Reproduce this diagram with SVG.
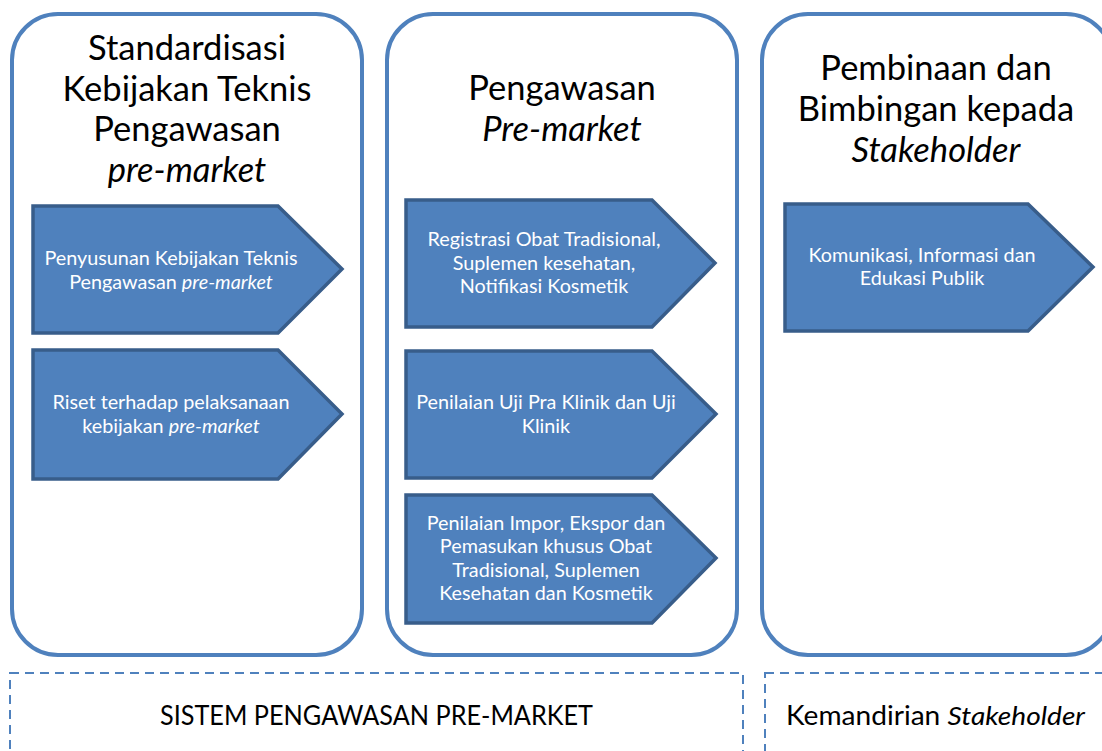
<svg xmlns="http://www.w3.org/2000/svg" width="1102" height="751" viewBox="0 0 1102 751">
<style>
.col{fill:#fff;stroke:#4F81BD;stroke-width:4}
.dash{fill:none;stroke:#4F81BD;stroke-width:2;stroke-dasharray:9 6}
.chev{fill:#4F81BD;stroke:#385D8A;stroke-width:3.5;stroke-linejoin:miter}
.title{font-family:Lato,"Liberation Sans",sans-serif;font-size:34.5px;fill:#000;text-anchor:middle}
.ct{font-family:Lato,"Liberation Sans",sans-serif;font-size:19.8px;fill:#fff;text-anchor:middle}
.bt{font-family:Lato,"Liberation Sans",sans-serif;font-size:26px;fill:#000}
.i{font-style:italic}
</style>
<rect width="1102" height="751" fill="#fff"/>
<g id="col1">
<rect class="col" x="12" y="14" width="350" height="641" rx="46"/>
<text class="title" x="187" y="60">Standardisasi</text>
<text class="title" x="187" y="101">Kebijakan Teknis</text>
<text class="title" x="187" y="141">Pengawasan</text>
<text class="title i" x="187" y="182">pre-market</text>
</g>
<g id="col2">
<rect class="col" x="387" y="14" width="350" height="641" rx="46"/>
<text class="title" x="562" y="100">Pengawasan</text>
<text class="title i" x="562" y="141">Pre-market</text>
</g>
<g id="col3">
<rect class="col" x="762" y="14" width="350" height="641" rx="46"/>
<text class="title" x="936" y="80">Pembinaan dan</text>
<text class="title" x="936" y="121">Bimbingan kepada</text>
<text class="title i" x="936" y="162">Stakeholder</text>
</g>
<g id="c1a">
<polygon class="chev" points="33,206 278,206 342,269 278,333 33,333"/>
<text class="ct" x="171" y="265">Penyusunan Kebijakan Teknis</text>
<text class="ct" x="171" y="289">Pengawasan <tspan class="i">pre-market</tspan></text>
</g>
<g id="c1b">
<polygon class="chev" points="33,350 278,350 342,414 278,479 33,479"/>
<text class="ct" x="171" y="409">Riset terhadap pelaksanaan</text>
<text class="ct" x="171" y="433">kebijakan <tspan class="i">pre-market</tspan></text>
</g>
<g id="c2a">
<polygon class="chev" points="406,200 652,200 715,263 652,327 406,327"/>
<text class="ct" x="544" y="246">Registrasi Obat Tradisional,</text>
<text class="ct" x="544" y="270">Suplemen kesehatan,</text>
<text class="ct" x="544" y="293">Notifikasi Kosmetik</text>
</g>
<g id="c2b">
<polygon class="chev" points="406,351 652,351 716,414 652,478 406,478"/>
<text class="ct" x="546" y="409">Penilaian Uji Pra Klinik dan Uji</text>
<text class="ct" x="546" y="433">Klinik</text>
</g>
<g id="c2c">
<polygon class="chev" points="406,495 652,495 716,558 652,623 406,623"/>
<text class="ct" x="546" y="530">Penilaian Impor, Ekspor dan</text>
<text class="ct" x="546" y="553">Pemasukan khusus Obat</text>
<text class="ct" x="546" y="577">Tradisional, Suplemen</text>
<text class="ct" x="546" y="600">Kesehatan dan Kosmetik</text>
</g>
<g id="c3a">
<polygon class="chev" points="785,204 1028,204 1093,267 1028,331 785,331"/>
<text class="ct" x="922" y="262">Komunikasi, Informasi dan</text>
<text class="ct" x="922" y="285">Edukasi Publik</text>
</g>
<g id="bottom1">
<rect class="dash" x="10" y="673" width="733" height="100"/>
<text class="bt" x="160" y="725" textLength="433" lengthAdjust="spacingAndGlyphs">SISTEM PENGAWASAN PRE-MARKET</text>
</g>
<g id="bottom2">
<rect class="dash" x="765" y="673" width="360" height="100"/>
<text class="bt" x="786" y="725" textLength="299" lengthAdjust="spacingAndGlyphs">Kemandirian <tspan class="i">Stakeholder</tspan></text>
</g>
<g id="connectors"></g>
</svg>
